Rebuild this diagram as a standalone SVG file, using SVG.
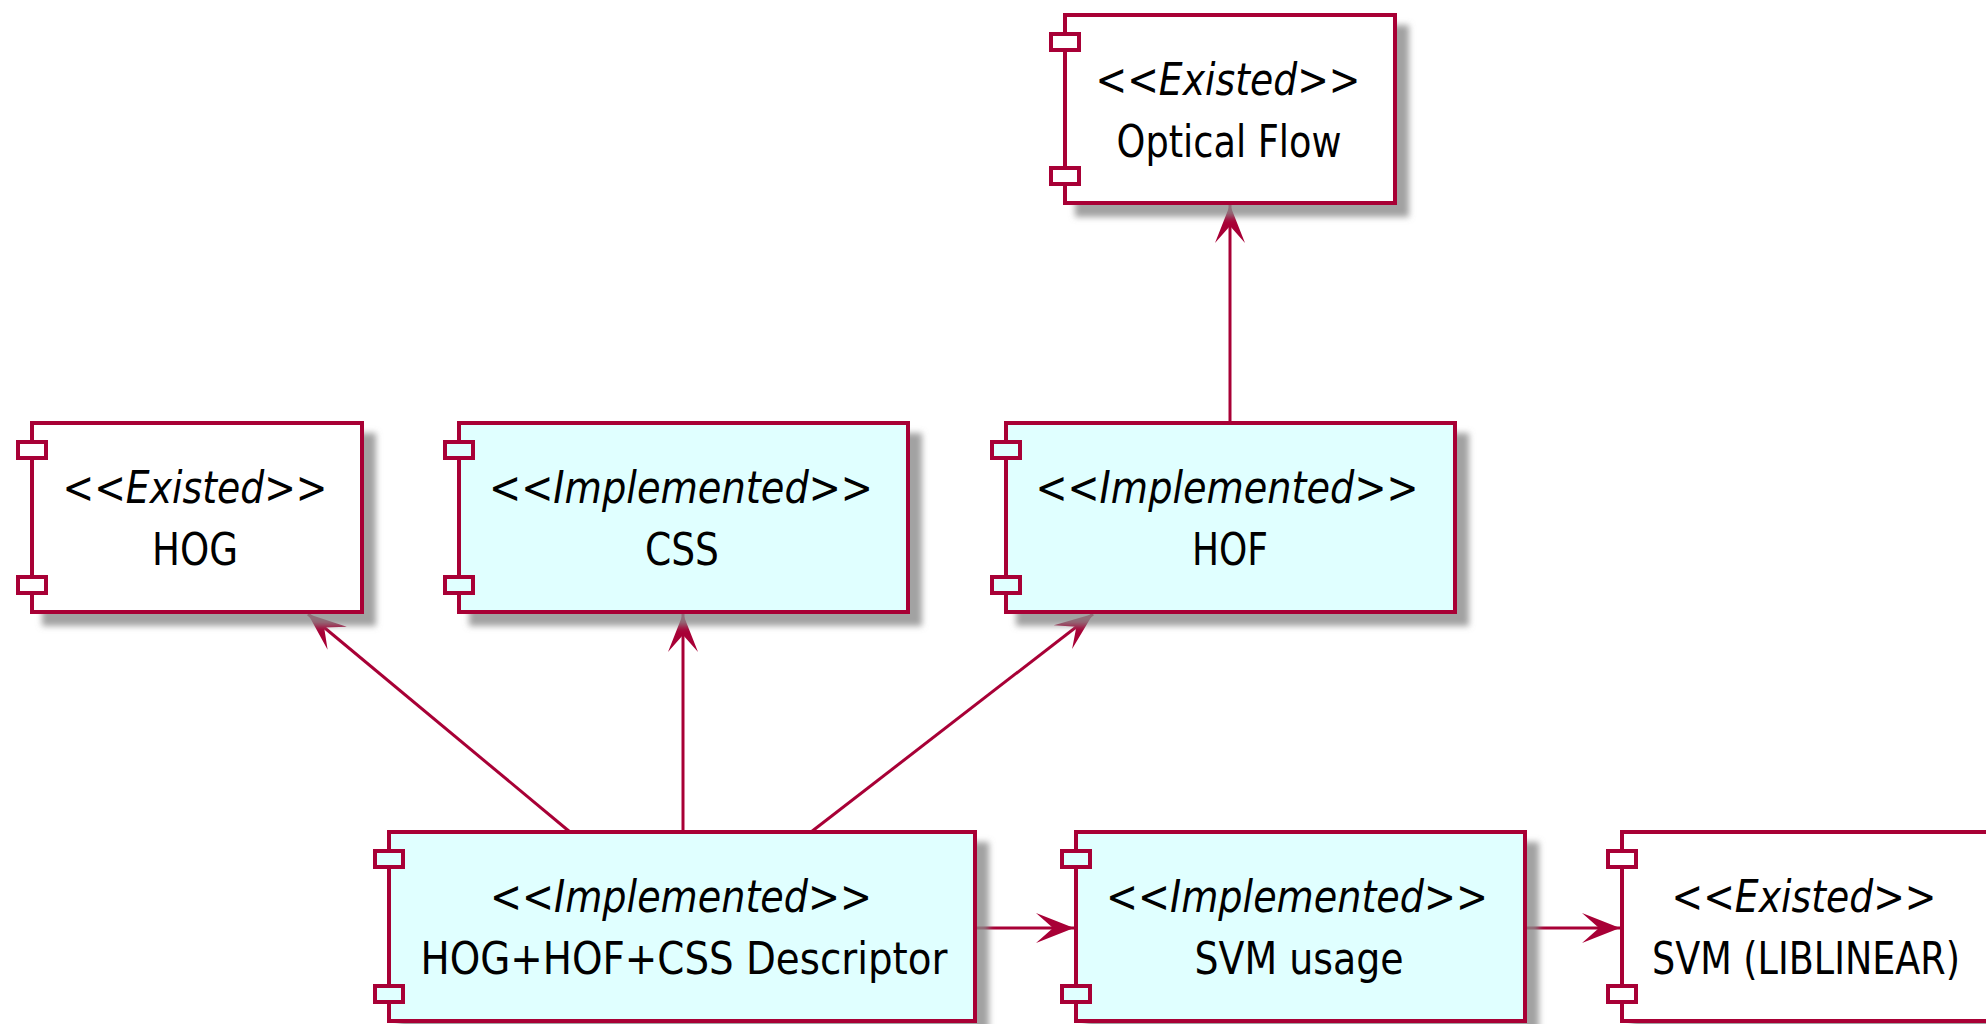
<svg xmlns="http://www.w3.org/2000/svg" width="1986" height="1024" viewBox="0 0 1986 1024">
<style>
.box{stroke:#A80036;stroke-width:4;filter:url(#sh)}
.port{stroke:#A80036;stroke-width:4}
.ex{fill:#FFFFFF}
.im{fill:#E0FFFF}
.st{font-family:"DejaVu Sans",sans-serif;font-size:45px;fill:#000;text-anchor:middle}
.it{font-style:italic}
.nm{font-family:"DejaVu Sans",sans-serif;font-size:45px;fill:#000;text-anchor:middle}
.cn{stroke:#A80036;stroke-width:3;fill:none;marker-end:url(#ah)}
</style>
<defs>
<filter id="sh" x="-10%" y="-10%" width="130%" height="140%">
<feGaussianBlur in="SourceAlpha" stdDeviation="3" result="b"/>
<feOffset in="b" dx="12" dy="12" result="o"/>
<feFlood flood-color="#8a8a8a" flood-opacity="0.8"/>
<feComposite in2="o" operator="in" result="s"/>
<feMerge><feMergeNode in="s"/><feMergeNode in="SourceGraphic"/></feMerge>
</filter>
<marker id="ah" viewBox="-40 -17 42 34" markerWidth="42" markerHeight="34" refX="0" refY="0" orient="auto" markerUnits="userSpaceOnUse">
<path d="M0,0 L-38,-15 L-21,0 L-38,15 Z" fill="#A80036"/>
</marker>
</defs>
<rect width="1986" height="1024" fill="#FFFFFF"/>

<g id="connectors">
<line class="cn" x1="570" y1="832" x2="308" y2="614"/>
<line class="cn" x1="683" y1="832" x2="683" y2="614"/>
<line class="cn" x1="811" y1="832" x2="1093" y2="614"/>
<line class="cn" x1="1230" y1="423" x2="1230" y2="205"/>
<line class="cn" x1="975" y1="928" x2="1074" y2="928"/>
<line class="cn" x1="1525" y1="928" x2="1620" y2="928"/>
</g>

<g id="optical-flow">
<rect class="box ex" x="1065" y="15" width="330" height="188"/>
<rect class="port ex" x="1051" y="34" width="28" height="16"/>
<rect class="port ex" x="1051" y="168" width="28" height="16"/>
<text class="st" x="1228" y="95" textLength="265" lengthAdjust="spacingAndGlyphs">&lt;&lt;<tspan class="it">Existed</tspan>&gt;&gt;</text>
<text class="nm" x="1229" y="157" textLength="225" lengthAdjust="spacingAndGlyphs">Optical Flow</text>
</g>

<g id="hog">
<rect class="box ex" x="32" y="423" width="330" height="189"/>
<rect class="port ex" x="18" y="442" width="28" height="16"/>
<rect class="port ex" x="18" y="577" width="28" height="16"/>
<text class="st" x="195" y="503" textLength="265" lengthAdjust="spacingAndGlyphs">&lt;&lt;<tspan class="it">Existed</tspan>&gt;&gt;</text>
<text class="nm" x="195" y="565" textLength="86" lengthAdjust="spacingAndGlyphs">HOG</text>
</g>

<g id="css">
<rect class="box im" x="459" y="423" width="449" height="189"/>
<rect class="port im" x="445" y="442" width="28" height="16"/>
<rect class="port im" x="445" y="577" width="28" height="16"/>
<text class="st" x="681" y="503" textLength="384" lengthAdjust="spacingAndGlyphs">&lt;&lt;<tspan class="it">Implemented</tspan>&gt;&gt;</text>
<text class="nm" x="682" y="565" textLength="74" lengthAdjust="spacingAndGlyphs">CSS</text>
</g>

<g id="hof">
<rect class="box im" x="1006" y="423" width="449" height="189"/>
<rect class="port im" x="992" y="442" width="28" height="16"/>
<rect class="port im" x="992" y="577" width="28" height="16"/>
<text class="st" x="1227" y="503" textLength="383" lengthAdjust="spacingAndGlyphs">&lt;&lt;<tspan class="it">Implemented</tspan>&gt;&gt;</text>
<text class="nm" x="1230" y="565" textLength="76" lengthAdjust="spacingAndGlyphs">HOF</text>
</g>

<g id="descriptor">
<rect class="box im" x="389" y="832" width="586" height="189"/>
<rect class="port im" x="375" y="851" width="28" height="16"/>
<rect class="port im" x="375" y="986" width="28" height="16"/>
<text class="st" x="681" y="912" textLength="382" lengthAdjust="spacingAndGlyphs">&lt;&lt;<tspan class="it">Implemented</tspan>&gt;&gt;</text>
<text class="nm" x="684" y="974" textLength="527" lengthAdjust="spacingAndGlyphs">HOG+HOF+CSS Descriptor</text>
</g>

<g id="svm-usage">
<rect class="box im" x="1076" y="832" width="449" height="189"/>
<rect class="port im" x="1062" y="851" width="28" height="16"/>
<rect class="port im" x="1062" y="986" width="28" height="16"/>
<text class="st" x="1297" y="912" textLength="382" lengthAdjust="spacingAndGlyphs">&lt;&lt;<tspan class="it">Implemented</tspan>&gt;&gt;</text>
<text class="nm" x="1299" y="974" textLength="209" lengthAdjust="spacingAndGlyphs">SVM usage</text>
</g>

<g id="svm-liblinear">
<rect class="box ex" x="1622" y="832" width="366" height="189"/>
<rect class="port ex" x="1608" y="851" width="28" height="16"/>
<rect class="port ex" x="1608" y="986" width="28" height="16"/>
<text class="st" x="1804" y="912" textLength="265" lengthAdjust="spacingAndGlyphs">&lt;&lt;<tspan class="it">Existed</tspan>&gt;&gt;</text>
<text class="nm" x="1806" y="974" textLength="308" lengthAdjust="spacingAndGlyphs">SVM (LIBLINEAR)</text>
</g>
</svg>
